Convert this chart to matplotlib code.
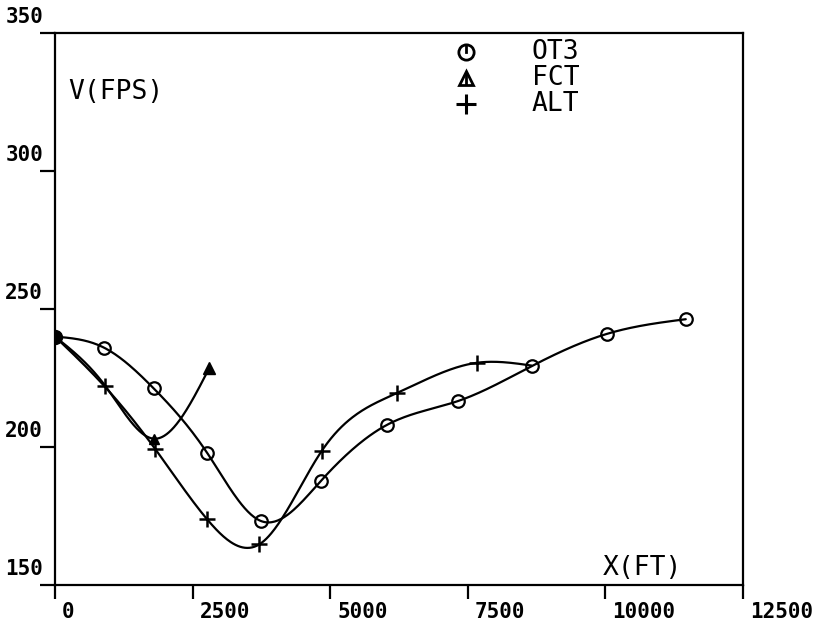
import matplotlib
matplotlib.use('Agg')
import matplotlib.pyplot as plt
import numpy as np

# values
ot3_x = [0, 890, 1790, 2770, 3740, 4830, 6030, 7330, 8660, 10030, 11460]
ot3_v = [240, 236, 221.3, 197.7, 173.2, 187.7, 208, 216.7, 229.3, 241, 246.3]

fct_x = [0, 900, 1800, 2800]
fct_v = [240, 222.5, 203, 228.5]

alt_x = [0, 900, 1820, 2760, 3710, 4850, 6210, 7660, 8660]
alt_v = [240, 222, 199.3, 173.9, 164.7, 198.7, 219.5, 230.5, 229.5]

legend_names = ['OT3', 'FCT', 'ALT']
x_ticks = [0, 2500, 5000, 7500, 10000, 12500]
y_ticks = [150, 200, 250, 300, 350]


def natural_spline(x, y, n=400):
    # plain natural cubic spline through the points, just for drawing
    x = np.asarray(x, float)
    y = np.asarray(y, float)
    k = len(x)
    h = np.diff(x)
    A = np.zeros((k, k))
    b = np.zeros(k)
    A[0, 0] = A[-1, -1] = 1
    for i in range(1, k - 1):
        A[i, i - 1] = h[i - 1]
        A[i, i] = 2 * (h[i - 1] + h[i])
        A[i, i + 1] = h[i]
        b[i] = 6 * ((y[i + 1] - y[i]) / h[i] - (y[i] - y[i - 1]) / h[i - 1])
    m = np.linalg.solve(A, b)
    xs = np.linspace(x[0], x[-1], n)
    idx = np.clip(np.searchsorted(x, xs) - 1, 0, k - 2)
    t0 = x[idx]
    t1 = x[idx + 1]
    hh = t1 - t0
    a = (t1 - xs) / hh
    c = (xs - t0) / hh
    ys = (a * y[idx] + c * y[idx + 1]
          + ((a ** 3 - a) * m[idx] + (c ** 3 - c) * m[idx + 1]) * hh ** 2 / 6)
    return xs, ys


fig = plt.figure(figsize=(8.23, 6.23), dpi=100)
ax = fig.add_axes([55 / 823, 38 / 623, 688 / 823, 552 / 623])
ax.set_xlim(0, 12500)
ax.set_ylim(150, 350)

lw = 1.6
for xs, vs in [(ot3_x, ot3_v), (alt_x, alt_v), (fct_x, fct_v)]:
    sx, sy = natural_spline(xs, vs)
    ax.plot(sx, sy, color='black', lw=lw, solid_capstyle='round')

ax.plot(ot3_x[1:], ot3_v[1:], 'o', mfc='none', mec='black', ms=9, mew=1.6)
ax.plot(alt_x[1:-1], alt_v[1:-1], '+', color='black', ms=11, mew=1.8)
ax.plot(fct_x[-1:], fct_v[-1:], '^', color='black', ms=9)
ax.plot(fct_x[2:3], fct_v[2:3], '^', color='black', ms=7)
ax.plot([0], [240], 'o', color='black', ms=10)

for s in ax.spines.values():
    s.set_linewidth(1.6)
ax.set_xticks(x_ticks)
ax.set_yticks(y_ticks)
ax.tick_params(axis='x', direction='out', length=10, width=1.6, labelbottom=False)
ax.tick_params(axis='y', direction='out', length=11, width=1.6, labelleft=False)

tick_font = dict(family='DejaVu Sans Mono', fontweight='bold', fontsize=15)
for xv in x_ticks:
    ax.annotate(str(xv), (xv, 150), xytext=(5, -12), textcoords='offset points',
                ha='left', va='top', **tick_font)
for yv in y_ticks:
    ax.annotate(str(yv), (0, yv), xytext=(-8.5, 4), textcoords='offset points',
                ha='right', va='bottom', **tick_font)

lab_font = dict(family='DejaVu Sans Mono', fontsize=19)
ax.text(0.02, 0.893, 'V(FPS)', transform=ax.transAxes, va='center', **lab_font)
ax.text(0.796, 0.031, 'X(FT)', transform=ax.transAxes, va='center', **lab_font)

# legend drawn by hand, like the plotter original
leg_y = [0.966, 0.919, 0.871]
mk = [dict(marker='o', mfc='none', mec='black', ms=11, mew=2),
      dict(marker='^', mfc='none', mec='black', ms=10, mew=2),
      dict(marker='+', color='black', ms=15, mew=2.2)]
for name, yy, m in zip(legend_names, leg_y, mk):
    ax.plot([0.598], [yy], transform=ax.transAxes, ls='none', **m)
    ax.text(0.693, yy, name, transform=ax.transAxes, va='center', **lab_font)
ax.plot([0.598, 0.598], [0.966, 0.979], transform=ax.transAxes, color='black', lw=2)
ax.plot([0.598, 0.598], [0.908, 0.925], transform=ax.transAxes, color='black', lw=2)

fig.savefig('out.png', dpi=100)
